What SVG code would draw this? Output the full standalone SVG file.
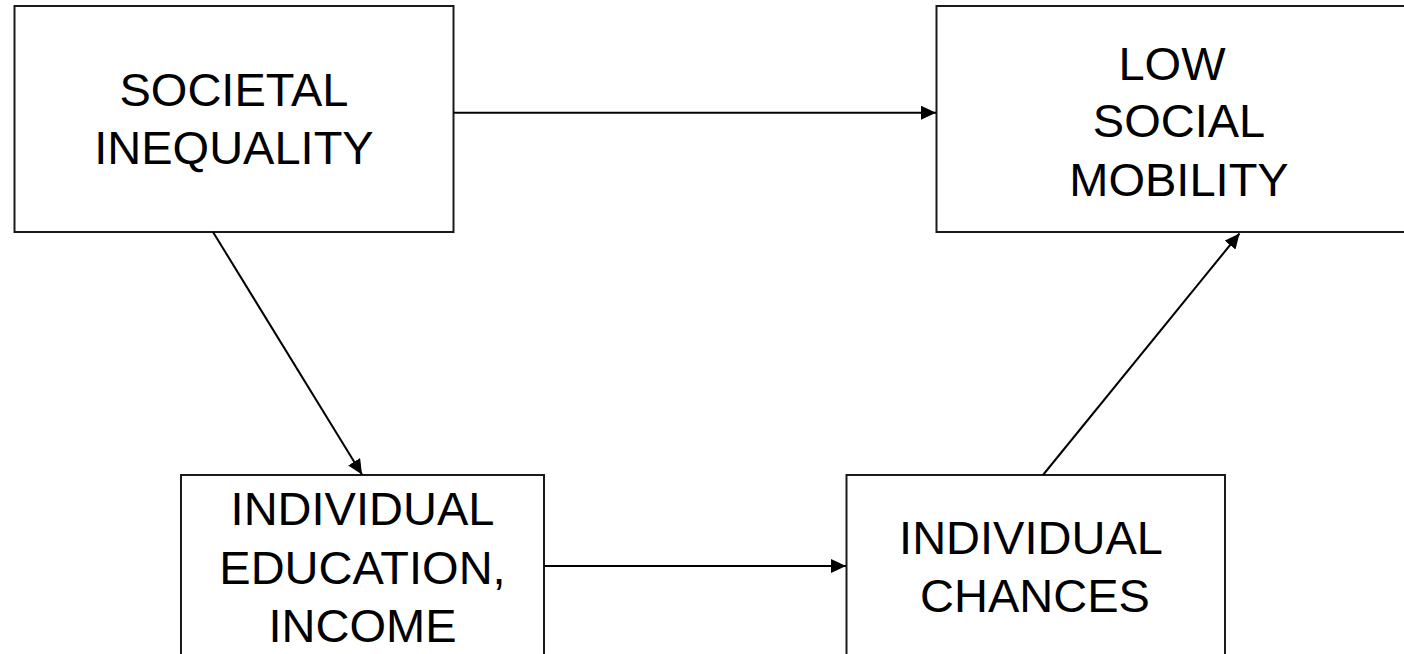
<svg xmlns="http://www.w3.org/2000/svg" width="1404" height="654" viewBox="0 0 1404 654">
<style>
.box{fill:#fff;stroke:#1a1a1a;stroke-width:2}
.lbl{font-family:"Liberation Sans",Arial,sans-serif;font-size:47px;fill:#000;text-anchor:middle}
.edge{stroke:#000;stroke-width:2;fill:none;marker-end:url(#ah)}
</style>
<defs>
<marker id="ah" markerUnits="userSpaceOnUse" markerWidth="15" markerHeight="14" refX="15" refY="7" orient="auto">
<path d="M0,0 L15,7 L0,14 z" fill="#000"/>
</marker>
</defs>
<rect width="1404" height="654" fill="#fff"/>
<g id="societal">
<rect class="box" x="14.5" y="6" width="439" height="226"/>
<text class="lbl" x="234" y="106">SOCIETAL</text>
<text class="lbl" x="234" y="164">INEQUALITY</text>
</g>
<g id="mobility">
<rect class="box" x="936.5" y="6" width="484" height="226"/>
<text class="lbl" x="1172" y="80">LOW</text>
<text class="lbl" x="1179" y="137">SOCIAL</text>
<text class="lbl" x="1179" y="196">MOBILITY</text>
</g>
<g id="education">
<rect class="box" x="181" y="475" width="363" height="200"/>
<text class="lbl" x="362.5" y="525">INDIVIDUAL</text>
<text class="lbl" x="362.5" y="584">EDUCATION,</text>
<text class="lbl" x="362.5" y="642">INCOME</text>
</g>
<g id="chances">
<rect class="box" x="846.5" y="475" width="378.5" height="200"/>
<text class="lbl" x="1031" y="554">INDIVIDUAL</text>
<text class="lbl" x="1035" y="612">CHANCES</text>
</g>
<g id="connectors">
<line class="edge" x1="453.5" y1="112.7" x2="936" y2="112.7"/>
<line class="edge" x1="213" y1="232" x2="362" y2="474.5"/>
<line class="edge" x1="544" y1="566" x2="846" y2="566"/>
<line class="edge" x1="1043" y1="475" x2="1239.5" y2="233.5"/>
</g>
</svg>
